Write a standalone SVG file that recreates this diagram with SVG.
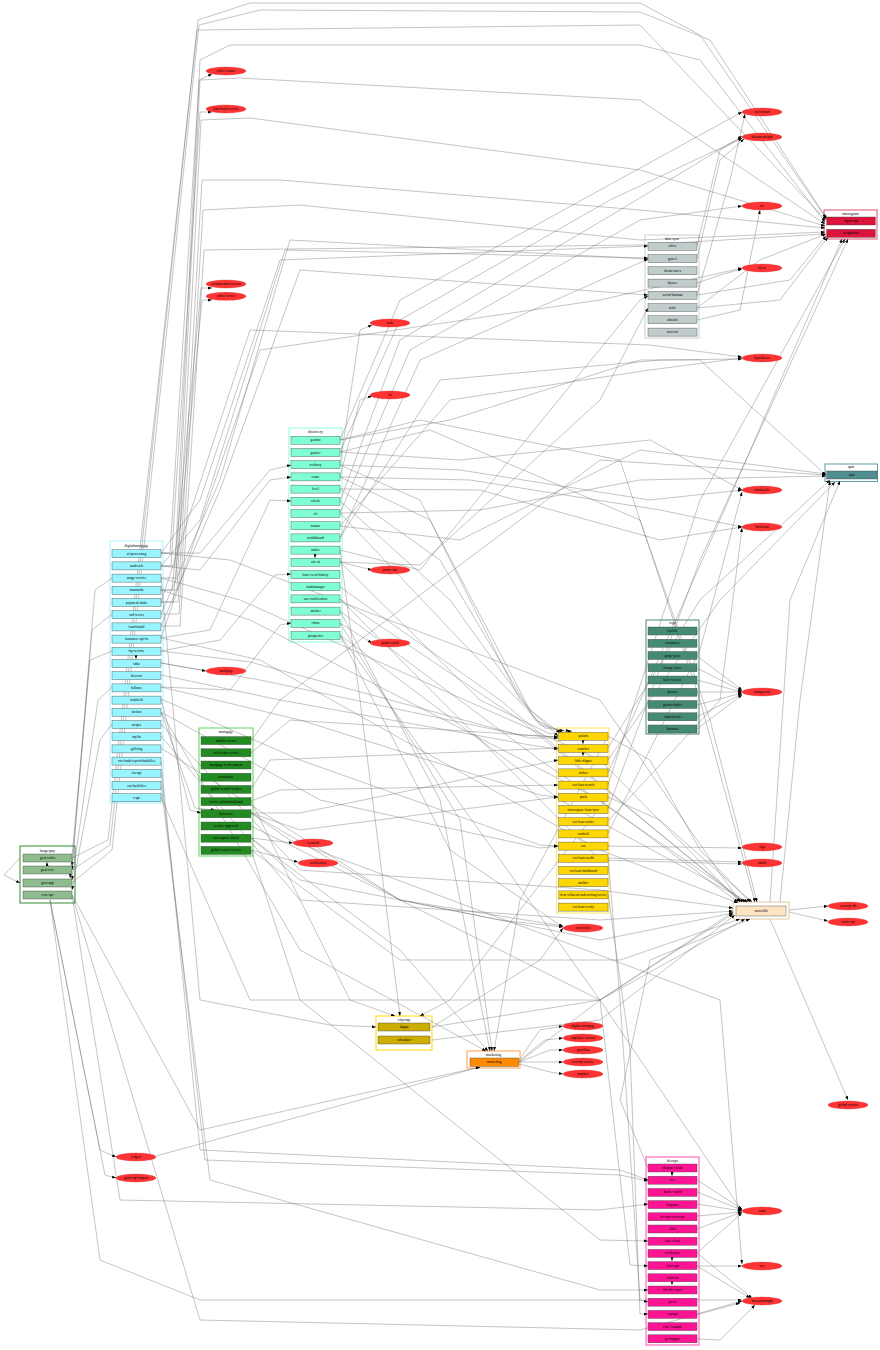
<svg xmlns="http://www.w3.org/2000/svg" width="880" height="1350" viewBox="0 0 880 1350">
<defs>
<marker id="a" markerWidth="4" markerHeight="3" refX="4" refY="1.5" orient="auto" markerUnits="userSpaceOnUse"><path d="M0,0L4,1.5L0,3z" fill="#000"/></marker>
<style>
text{font-family:"Liberation Serif",serif;font-size:3.6px;text-anchor:middle;dominant-baseline:central;fill:#000}
.t{font-size:3.8px}
.n rect{stroke:#444;stroke-width:0.4}
.el ellipse{fill:#f33;stroke:#c22;stroke-width:0.3}
.cl{fill:#fff;stroke-width:1}
.e polyline{fill:none;stroke:#666;stroke-width:0.45;marker-end:url(#a);stroke-opacity:0.85}
.bp rect{fill:#8fbc8f}.dm rect{fill:#98f5ff}.mg rect{fill:#228b22}.dc rect{fill:#7fffd4}
.yl rect{fill:#ffd700}.gr rect{fill:#c1cdcd}.cr rect{fill:#dc143c}.tl rect{fill:#4f8f8f}
.rg rect{fill:#458b74}.pk rect{fill:#ff1493}.or rect{fill:#ff8c00}.sd rect{fill:#cdad00}.mo rect{fill:#ffe4c4}
</style>
</defs>
<rect width="880" height="1350" fill="#fff"/>
<g id="clusters">
<rect class="cl" x="20" y="846" width="55" height="57" stroke="#2e8b2e" stroke-width="0.8"/><text class="t" x="47.5" y="850.5">burgerpay</text>
<rect class="cl" x="110" y="541" width="53" height="262" stroke="#a8f4ff"/><text class="t" x="136.5" y="545.5">digitalmortgage</text>
<rect class="cl" x="199" y="728" width="54" height="128" stroke="#5fd35f" stroke-width="1.3"/><text class="t" x="226" y="732">mortgage</text>
<rect class="cl" x="289" y="428" width="53" height="214" stroke="#8fffda"/><text class="t" x="315.5" y="432.3">discovery</text>
<rect class="cl" x="556.5" y="728" width="52.5" height="185" stroke="#ffe866"/>
<rect class="cl" x="645" y="235" width="54" height="103" stroke="#c8d0d0"/><text class="t" x="672" y="238.5">data-sync</text>
<rect class="cl" x="824" y="210" width="53" height="29" stroke="#e0506e" stroke-width="1.3"/><text class="t" x="850.5" y="213.5">microgrant</text>
<rect class="cl" x="825" y="464" width="52.5" height="17.5" stroke="#5f9ea0" stroke-width="1.3"/><text class="t" x="851" y="466.7">spot</text>
<rect class="cl" x="646" y="620" width="53" height="114" stroke="#4a8a6a" stroke-width="1.2"/><text class="t" x="672.5" y="623.3">rego</text>
<rect class="cl" x="646" y="1157" width="53" height="188" stroke="#ff4fb0" stroke-width="1.2"/><text class="t" x="672.5" y="1160.5">devops</text>
<rect class="cl" x="467" y="1051" width="53" height="17" stroke="#ffa040"/><text class="t" x="493.5" y="1054.5">marketing</text>
<rect class="cl" x="376" y="1016" width="56" height="34" stroke="#ffd700"/><text class="t" x="404" y="1019.5">citycorp</text>
<rect class="cl" x="733" y="902" width="56" height="17" stroke="#e8c9a0" stroke-width="0.6"/>
</g>
<g class="e" id="connectors">
<polyline points="161,566 175,566 200,60 230,45 640,45 700,60 825,222"/>
<polyline points="161,578 176,578 200,80 240,78 640,100 825,224"/>
<polyline points="161,590 177,590 201,120 250,118 640,170 825,226"/>
<polyline points="161,602 178,602 202,180 280,180 640,210 825,228"/>
<polyline points="161,614 179,614 203,210 300,205 640,240 825,232"/>
<polyline points="161,626 180,626 204,250 640,245 825,234"/>
<polyline points="72,870 110,845 198,20 250,3 640,3 700,35 826,218"/>
<polyline points="72,883 112,850 199,25 260,10 640,12 710,40 827,219"/>
<polyline points="72,858 108,840 197,30 640,25 826,220"/>
<polyline points="340,465 420,500 520,700 558,736"/>
<polyline points="340,477 430,520 530,710 560,733"/>
<polyline points="340,489 440,560 535,720 562,732"/>
<polyline points="340,501 450,600 540,725 564,731"/>
<polyline points="340,513 460,640 545,728 570,731"/>
<polyline points="340,562 480,700 550,734 572,731"/>
<polyline points="161,663 260,680 520,735 558,737"/>
<polyline points="161,675 280,700 530,745 558,749"/>
<polyline points="161,687 300,720 540,795 558,797"/>
<polyline points="161,699 300,760 540,845 558,846"/>
<polyline points="161,712 320,800 540,848 558,846"/>
<polyline points="161,651 250,662 530,738 558,738"/>
<polyline points="340,440 420,420 620,460 700,700 755,902"/>
<polyline points="340,452 430,430 640,520 710,720 757,902"/>
<polyline points="608,736 650,760 700,850 750,902"/>
<polyline points="608,797 660,820 752,902"/>
<polyline points="161,724 300,870 600,890 733,908"/>
<polyline points="161,736 300,900 600,920 733,911"/>
<polyline points="251,813 400,900 600,940 733,913"/>
<polyline points="251,850 400,960 620,960 740,919"/>
<polyline points="519,1062 600,1000 745,919"/>
<polyline points="648,1168 620,1100 650,960 750,919"/>
<polyline points="161,553 200,553 270,470 291,465"/>
<polyline points="161,566 200,570 270,480 291,477"/>
<polyline points="161,638 210,630 270,500 291,501"/>
<polyline points="161,651 220,640 275,575 291,574"/>
<polyline points="161,687 230,690 280,625 291,623"/>
<polyline points="340,440 450,420 640,360 700,360 826,475"/>
<polyline points="340,452 460,460 650,440 742,490"/>
<polyline points="340,465 460,470 650,500 742,490"/>
<polyline points="340,477 470,480 660,510 742,527"/>
<polyline points="340,489 480,490 660,540 742,527"/>
<polyline points="340,513 480,510 640,480 826,476"/>
<polyline points="340,526 460,540 640,450 826,474"/>
<polyline points="340,550 420,570 640,300 648,296"/>
<polyline points="340,562 420,565 600,400 648,308"/>
<polyline points="340,526 450,400 650,370 742,358"/>
<polyline points="161,602 250,330 650,345 742,357"/>
<polyline points="340,538 440,380 660,360 742,359"/>
<polyline points="161,638 260,350 600,300 742,268"/>
<polyline points="697,283 720,275 742,269"/>
<polyline points="697,246 720,150 742,138"/>
<polyline points="697,259 720,160 744,139"/>
<polyline points="697,295 730,180 745,114"/>
<polyline points="697,308 760,260 826,234"/>
<polyline points="697,308 780,300 828,237"/>
<polyline points="697,320 740,310 760,210"/>
<polyline points="697,295 790,280 826,236"/>
<polyline points="697,656 742,690"/>
<polyline points="697,668 742,691"/>
<polyline points="697,680 742,692"/>
<polyline points="697,692 742,692"/>
<polyline points="697,705 742,693"/>
<polyline points="697,717 742,694"/>
<polyline points="697,729 742,695"/>
<polyline points="697,1180 742,1209"/>
<polyline points="697,1192 742,1210"/>
<polyline points="697,1204 742,1211"/>
<polyline points="697,1216 742,1212"/>
<polyline points="697,1229 742,1212"/>
<polyline points="697,1253 742,1213"/>
<polyline points="697,1266 742,1266"/>
<polyline points="697,1266 750,1298"/>
<polyline points="697,1253 752,1298"/>
<polyline points="697,1314 742,1301"/>
<polyline points="697,1339 720,1340 755,1305"/>
<polyline points="161,761 200,1150 620,1170 648,1180"/>
<polyline points="161,773 205,1160 620,1175 648,1181"/>
<polyline points="72,895 120,1200 600,1210 648,1204"/>
<polyline points="251,850 300,1000 600,1240 648,1241"/>
<polyline points="340,635 600,1000 630,1265 648,1266"/>
<polyline points="608,858 620,1000 640,1300 648,1302"/>
<polyline points="608,894 630,1050 640,1314 648,1314"/>
<polyline points="161,785 210,1180 600,1290 648,1290"/>
<polyline points="519,1060 540,1030 563,1026"/>
<polyline points="519,1061 545,1040 563,1038"/>
<polyline points="519,1062 550,1050 563,1050"/>
<polyline points="519,1062 563,1062"/>
<polyline points="519,1064 550,1072 563,1074"/>
<polyline points="340,611 440,800 490,1051"/>
<polyline points="340,623 460,820 492,1051"/>
<polyline points="251,838 400,950 488,1051"/>
<polyline points="608,736 520,900 494,1051"/>
<polyline points="161,712 300,950 486,1051"/>
<polyline points="72,895 200,1130 480,1067"/>
<polyline points="161,578 200,1000 330,1025 376,1027"/>
<polyline points="340,550 360,700 400,1016"/>
<polyline points="251,801 350,1000 395,1016"/>
<polyline points="608,797 450,1000 420,1016"/>
<polyline points="432,1027 600,1000 733,912"/>
<polyline points="432,1040 600,1020 735,915"/>
<polyline points="432,1027 540,960 563,928"/>
<polyline points="161,553 170,553 199,80 212,74"/>
<polyline points="161,566 171,566 200,112 212,112"/>
<polyline points="161,590 172,590 201,288 212,288"/>
<polyline points="161,602 173,602 202,300 212,300"/>
<polyline points="340,465 360,330 372,325"/>
<polyline points="340,477 360,400 372,396"/>
<polyline points="340,562 372,570"/>
<polyline points="340,623 372,643"/>
<polyline points="608,846 742,848"/>
<polyline points="608,858 742,862"/>
<polyline points="340,599 600,860 742,864"/>
<polyline points="789,910 828,906"/>
<polyline points="789,912 828,921"/>
<polyline points="770,919 848,1100"/>
<polyline points="780,902 800,700 830,481"/>
<polyline points="770,902 790,600 840,481"/>
<polyline points="608,748 700,600 830,480"/>
<polyline points="608,760 720,600 835,482"/>
<polyline points="608,773 720,520 842,239"/>
<polyline points="608,785 700,500 845,239"/>
<polyline points="608,809 700,560 848,239"/>
<polyline points="608,821 720,700 742,528"/>
<polyline points="608,833 700,650 742,492"/>
<polyline points="340,440 400,300 600,190 742,112"/>
<polyline points="340,452 400,320 610,200 742,138"/>
<polyline points="340,501 400,340 620,210 742,136"/>
<polyline points="340,513 410,350 640,220 742,206"/>
<polyline points="340,538 420,360 648,259"/>
<polyline points="161,553 200,500 280,260 648,246"/>
<polyline points="161,566 200,520 285,250 648,258"/>
<polyline points="161,614 220,480 290,240 648,259"/>
<polyline points="161,626 220,490 300,270 648,295"/>
<polyline points="251,741 280,700 600,460 826,475"/>
<polyline points="251,753 290,720 558,737"/>
<polyline points="251,813 300,813 558,760"/>
<polyline points="251,813 300,830 558,797"/>
<polyline points="251,826 300,850 600,1000 742,1211"/>
<polyline points="251,838 300,880 500,920 563,927"/>
<polyline points="251,789 270,760 558,748"/>
<polyline points="251,801 280,790 558,785"/>
<polyline points="251,813 290,840 720,1000 742,1264"/>
<polyline points="161,699 190,810 201,813"/>
<polyline points="161,712 195,808 215,810"/>
<polyline points="161,663 206,671"/>
<polyline points="50,900 100,1150 116,1157"/>
<polyline points="50,900 105,1175 116,1178"/>
<polyline points="156,1156 480,1067"/>
<polyline points="72,895 200,1320 640,1330 740,1303"/>
<polyline points="50,900 100,1260 200,1300 640,1300 742,1300"/>
<polyline points="251,838 293,843"/>
<polyline points="251,850 298,862"/>
<polyline points="161,748 400,900 563,926"/>
<polyline points="340,635 450,850 563,927"/>
<polyline points="161,553 230,560 600,700 740,902"/>
<polyline points="161,578 240,600 600,760 740,902"/>
<polyline points="161,590 250,620 600,800 738,902"/>
<polyline points="161,638 260,660 600,850 738,903"/>
<polyline points="340,587 500,700 742,902"/>
<polyline points="340,599 520,720 744,902"/>
<polyline points="340,611 540,760 746,902"/>
<polyline points="340,635 560,800 748,902"/>
<polyline points="161,797 250,1000 600,1000 733,914"/>
<polyline points="20,858 4,875 20,883"/>
<polyline points="112,578 95,590 72,866"/>
<polyline points="112,614 92,630 72,870"/>
<polyline points="112,651 90,660 70,878"/>
<polyline points="112,687 98,700 72,880"/>
<polyline points="112,724 100,740 72,890"/>
<polyline points="47,866 47,862"/>
<polyline points="136,655 136,659"/>
<polyline points="315,554 315,558"/>
<polyline points="583,740 583,744"/>
<polyline points="583,753 583,756"/>
<polyline points="672,1172 672,1176"/>
<polyline points="672,1257 672,1261"/>
<polyline points="672,1282 672,1285"/>
</g>
<g id="burgerpay" class="n bp">
<g id="gost-codes"><rect x="23" y="854" width="49" height="8"/><text x="47.5" y="858">gost-codes</text></g>
<g id="gost-core"><rect x="23" y="866" width="49" height="8"/><text x="47.5" y="870">gost-core</text></g>
<g id="gost-app"><rect x="23" y="879" width="49" height="8"/><text x="47.5" y="883">gost-app</text></g>
<g id="core-api"><rect x="23" y="891" width="49" height="8"/><text x="47.5" y="895">core-api</text></g>
</g>
<g id="digitalmortgage" class="n dm">
<g id="ui-processing"><rect x="112" y="549.7" width="49" height="8"/><text x="136.5" y="553.7">ui-processing</text></g>
<g id="uaab-ack"><rect x="112" y="561.9" width="49" height="8"/><text x="136.5" y="565.9">uaab-ack</text></g>
<g id="usage-service"><rect x="112" y="574.1" width="49" height="8"/><text x="136.5" y="578.1">usage-service</text></g>
<g id="mansarda"><rect x="112" y="586.3" width="49" height="8"/><text x="136.5" y="590.3">mansarda</text></g>
<g id="payment-tasks"><rect x="112" y="598.5" width="49" height="8"/><text x="136.5" y="602.5">payment-tasks</text></g>
<g id="xsd-server"><rect x="112" y="610.7" width="49" height="8"/><text x="136.5" y="614.7">xsd-server</text></g>
<g id="loanfinstall"><rect x="112" y="622.9" width="49" height="8"/><text x="136.5" y="626.9">loanfinstall</text></g>
<g id="insurance-api-in"><rect x="112" y="635.1" width="49" height="8"/><text x="136.5" y="639.1">insurance-api-in</text></g>
<g id="fsp-service"><rect x="112" y="647.3" width="49" height="8"/><text x="136.5" y="651.3">fsp-service</text></g>
<g id="tabu"><rect x="112" y="659.5" width="49" height="8"/><text x="136.5" y="663.5">tabu</text></g>
<g id="hireroor"><rect x="112" y="671.7" width="49" height="8"/><text x="136.5" y="675.7">hireroor</text></g>
<g id="fullnote"><rect x="112" y="683.9" width="49" height="8"/><text x="136.5" y="687.9">fullnote</text></g>
<g id="taskfield"><rect x="112" y="696.1" width="49" height="8"/><text x="136.5" y="700.1">taskfield</text></g>
<g id="faction"><rect x="112" y="708.3" width="49" height="8"/><text x="136.5" y="712.3">faction</text></g>
<g id="swiper"><rect x="112" y="720.5" width="49" height="8"/><text x="136.5" y="724.5">swiper</text></g>
<g id="mylin"><rect x="112" y="732.7" width="49" height="8"/><text x="136.5" y="736.7">mylin</text></g>
<g id="gollsing"><rect x="112" y="744.9" width="49" height="8"/><text x="136.5" y="748.9">gollsing</text></g>
<g id="css-frank-report-backfiles"><rect x="112" y="757.1" width="49" height="8"/><text x="136.5" y="761.1">css-frank-report-backfiles</text></g>
<g id="css-api"><rect x="112" y="769.3" width="49" height="8"/><text x="136.5" y="773.3">css-api</text></g>
<g id="css-backfiles"><rect x="112" y="781.5" width="49" height="8"/><text x="136.5" y="785.5">css-backfiles</text></g>
<g id="t-api"><rect x="112" y="793.7" width="49" height="8"/><text x="136.5" y="797.7">t-api</text></g>
</g>
<g id="mortgage" class="n mg">
<g id="mobile-server"><rect x="201" y="736.6" width="50" height="8"/><text x="226" y="740.6">mobile-server</text></g>
<g id="web-form-service"><rect x="201" y="748.8" width="50" height="8"/><text x="226" y="752.8">web-form-service</text></g>
<g id="mortgage-to-document"><rect x="201" y="761" width="50" height="8"/><text x="226" y="765">mortgage-to-document</text></g>
<g id="sensorlane"><rect x="201" y="773.2" width="50" height="8"/><text x="226" y="777.2">sensorlane</text></g>
<g id="global-search-worker"><rect x="201" y="785.4" width="50" height="8"/><text x="226" y="789.4">global-search-worker</text></g>
<g id="service-platformdefault"><rect x="201" y="797.6" width="50" height="8"/><text x="226" y="801.6">service-platformdefault</text></g>
<g id="borrower"><rect x="201" y="809.8" width="50" height="8"/><text x="226" y="813.8">borrower</text></g>
<g id="service-approval"><rect x="201" y="822" width="50" height="8"/><text x="226" y="826">service-approval</text></g>
<g id="microspace-block"><rect x="201" y="834.2" width="50" height="8"/><text x="226" y="838.2">microspace-block</text></g>
<g id="global-search-service"><rect x="201" y="846.4" width="50" height="8"/><text x="226" y="850.4">global-search-service</text></g>
</g>
<g id="discovery" class="n dc">
<g id="gemini"><rect x="291" y="436.3" width="49" height="8"/><text x="315.5" y="440.3">gemini</text></g>
<g id="gsuiter"><rect x="291" y="448.5" width="49" height="8"/><text x="315.5" y="452.5">gsuiter</text></g>
<g id="rocktory"><rect x="291" y="460.7" width="49" height="8"/><text x="315.5" y="464.7">rocktory</text></g>
<g id="crane"><rect x="291" y="472.9" width="49" height="8"/><text x="315.5" y="476.9">crane</text></g>
<g id="level"><rect x="291" y="485.1" width="49" height="8"/><text x="315.5" y="489.1">level</text></g>
<g id="colette"><rect x="291" y="497.3" width="49" height="8"/><text x="315.5" y="501.3">colette</text></g>
<g id="cir"><rect x="291" y="509.5" width="49" height="8"/><text x="315.5" y="513.5">cir</text></g>
<g id="toaster"><rect x="291" y="521.7" width="49" height="8"/><text x="315.5" y="525.7">toaster</text></g>
<g id="nodshboard"><rect x="291" y="533.9" width="49" height="8"/><text x="315.5" y="537.9">nodshboard</text></g>
<g id="tasker"><rect x="291" y="546.1" width="49" height="8"/><text x="315.5" y="550.1">tasker</text></g>
<g id="site-ui"><rect x="291" y="558.3" width="49" height="8"/><text x="315.5" y="562.3">site-ui</text></g>
<g id="loan-event-history"><rect x="291" y="570.5" width="49" height="8"/><text x="315.5" y="574.5">loan-event-history</text></g>
<g id="loadmanager"><rect x="291" y="582.7" width="49" height="8"/><text x="315.5" y="586.7">loadmanager</text></g>
<g id="user-notification"><rect x="291" y="594.9" width="49" height="8"/><text x="315.5" y="598.9">user-notification</text></g>
<g id="stacker"><rect x="291" y="607.1" width="49" height="8"/><text x="315.5" y="611.1">stacker</text></g>
<g id="citrus"><rect x="291" y="619.3" width="49" height="8"/><text x="315.5" y="623.3">citrus</text></g>
<g id="prospector"><rect x="291" y="631.5" width="49" height="8"/><text x="315.5" y="635.5">prospector</text></g>
</g>
<g id="core" class="n yl">
<g id="polaris"><rect x="558.7" y="732.3" width="49.3" height="8"/><text x="583.3" y="736.3">polaris</text></g>
<g id="watcher"><rect x="558.7" y="744.5" width="49.3" height="8"/><text x="583.3" y="748.5">watcher</text></g>
<g id="little-dipper"><rect x="558.7" y="756.7" width="49.3" height="8"/><text x="583.3" y="760.7">little-dipper</text></g>
<g id="trokes"><rect x="558.7" y="768.9" width="49.3" height="8"/><text x="583.3" y="772.9">trokes</text></g>
<g id="css-loan-search"><rect x="558.7" y="781.1" width="49.3" height="8"/><text x="583.3" y="785.1">css-loan-search</text></g>
<g id="pack"><rect x="558.7" y="793.3" width="49.3" height="8"/><text x="583.3" y="797.3">pack</text></g>
<g id="microspace-loan-sync"><rect x="558.7" y="805.5" width="49.3" height="8"/><text x="583.3" y="809.5">microspace-loan-sync</text></g>
<g id="css-loan-writer"><rect x="558.7" y="817.7" width="49.3" height="8"/><text x="583.3" y="821.7">css-loan-writer</text></g>
<g id="cordsell"><rect x="558.7" y="829.9" width="49.3" height="8"/><text x="583.3" y="833.9">cordsell</text></g>
<g id="css"><rect x="558.7" y="842.1" width="49.3" height="8"/><text x="583.3" y="846.1">css</text></g>
<g id="css-loan-credit"><rect x="558.7" y="854.3" width="49.3" height="8"/><text x="583.3" y="858.3">css-loan-credit</text></g>
<g id="css-loan-dashboard"><rect x="558.7" y="866.5" width="49.3" height="8"/><text x="583.3" y="870.5">css-loan-dashboard</text></g>
<g id="molder"><rect x="558.7" y="878.7" width="49.3" height="8"/><text x="583.3" y="882.7">molder</text></g>
<g id="clear-collateral"><rect x="558.7" y="890.9" width="49.3" height="8"/><text x="583.3" y="894.9" style="font-size:3.2px">clear-collateral-underwriting-service</text></g>
<g id="css-loan-verify"><rect x="558.7" y="903.1" width="49.3" height="8"/><text x="583.3" y="907.1">css-loan-verify</text></g>
</g>
<g id="data-sync" class="n gr">
<g id="office"><rect x="648" y="242.3" width="49" height="8"/><text x="672.5" y="246.3">office</text></g>
<g id="gravel"><rect x="648" y="254.6" width="49" height="8"/><text x="672.5" y="258.6">gravel</text></g>
<g id="doom-saves"><rect x="648" y="266.8" width="49" height="8"/><text x="672.5" y="270.8">doom-saves</text></g>
<g id="hyssec"><rect x="648" y="279.1" width="49" height="8"/><text x="672.5" y="283.1">hyssec</text></g>
<g id="social-batman"><rect x="648" y="291.3" width="49" height="8"/><text x="672.5" y="295.3">social-batman</text></g>
<g id="node"><rect x="648" y="303.6" width="49" height="8"/><text x="672.5" y="307.6">node</text></g>
<g id="ahnedo"><rect x="648" y="315.8" width="49" height="8"/><text x="672.5" y="319.8">ahnedo</text></g>
<g id="insector"><rect x="648" y="328.1" width="49" height="8"/><text x="672.5" y="332.1">insector</text></g>
</g>
<g id="microgrant" class="n cr">
<g id="figaro-api"><rect x="826.7" y="217" width="48.6" height="8"/><text x="851" y="221">figaro-api</text></g>
<g id="neighbours"><rect x="826.7" y="229.3" width="48.6" height="8"/><text x="851" y="233.3">neighbours</text></g>
</g>
<g id="spot" class="n tl">
<g id="spot-node"><rect x="826.7" y="471" width="50.3" height="8"/><text x="851.8" y="475">spot</text></g>
</g>
<g id="rego" class="n rg">
<g id="lowlife"><rect x="648" y="627" width="49" height="8"/><text x="672.5" y="631">lowlife</text></g>
<g id="terraraces"><rect x="648" y="639.3" width="49" height="8"/><text x="672.5" y="643.3">terraraces</text></g>
<g id="grape-juice"><rect x="648" y="651.5" width="49" height="8"/><text x="672.5" y="655.5">grape-juice</text></g>
<g id="orange-juice"><rect x="648" y="663.8" width="49" height="8"/><text x="672.5" y="667.8">orange-juice</text></g>
<g id="hello-service"><rect x="648" y="676" width="49" height="8"/><text x="672.5" y="680">hello-service</text></g>
<g id="prinses"><rect x="648" y="688.3" width="49" height="8"/><text x="672.5" y="692.3">prinses</text></g>
<g id="parrot-finder"><rect x="648" y="700.5" width="49" height="8"/><text x="672.5" y="704.5">parrot-finder</text></g>
<g id="underfloors"><rect x="648" y="712.8" width="49" height="8"/><text x="672.5" y="716.8">underfloors</text></g>
<g id="bananas"><rect x="648" y="725" width="49" height="8"/><text x="672.5" y="729">bananas</text></g>
</g>
<g id="devops" class="n pk">
<g id="dispute-cloud"><rect x="648" y="1164" width="49" height="8"/><text x="672.5" y="1168">dispute-cloud</text></g>
<g id="cloe"><rect x="648" y="1176.2" width="49" height="8"/><text x="672.5" y="1180.2">cloe</text></g>
<g id="battle-world"><rect x="648" y="1188.4" width="49" height="8"/><text x="672.5" y="1192.4">battle-world</text></g>
<g id="tlogstore"><rect x="648" y="1200.6" width="49" height="8"/><text x="672.5" y="1204.6">tlogstore</text></g>
<g id="devops-test-repo"><rect x="648" y="1212.8" width="49" height="8"/><text x="672.5" y="1216.8">devops-test-repo</text></g>
<g id="alfin"><rect x="648" y="1225" width="49" height="8"/><text x="672.5" y="1229">alfin</text></g>
<g id="clue-client"><rect x="648" y="1237.2" width="49" height="8"/><text x="672.5" y="1241.2">clue-client</text></g>
<g id="techloader"><rect x="648" y="1249.4" width="49" height="8"/><text x="672.5" y="1253.4">techloader</text></g>
<g id="offer-api"><rect x="648" y="1261.6" width="49" height="8"/><text x="672.5" y="1265.6">offer-api</text></g>
<g id="findcoin"><rect x="648" y="1273.8" width="49" height="8"/><text x="672.5" y="1277.8">findcoin</text></g>
<g id="bfb-dev-sync"><rect x="648" y="1286" width="49" height="8"/><text x="672.5" y="1290">bfb-dev-sync</text></g>
<g id="jarvis"><rect x="648" y="1298.2" width="49" height="8"/><text x="672.5" y="1302.2">jarvis</text></g>
<g id="voyager"><rect x="648" y="1310.4" width="49" height="8"/><text x="672.5" y="1314.4">voyager</text></g>
<g id="clue-example"><rect x="648" y="1322.6" width="49" height="8"/><text x="672.5" y="1326.6">clue-example</text></g>
<g id="go-mapper"><rect x="648" y="1334.8" width="49" height="8"/><text x="672.5" y="1338.8">go-mapper</text></g>
</g>
<g id="marketing" class="n or">
<g id="marketing-node"><rect x="470" y="1058" width="48.7" height="8.3"/><text x="494.3" y="1062.2">marketing</text></g>
</g>
<g id="citycorp" class="n sd">
<g id="kappa"><rect x="378" y="1023" width="52" height="8"/><text x="404" y="1027">kappa</text></g>
<g id="calculator"><rect x="378" y="1036" width="52" height="8"/><text x="404" y="1040">calculator</text></g>
</g>
<g id="monolith" class="n mo">
<g id="monolith-node"><rect x="736" y="906" width="50" height="10"/><text x="761" y="911">monolith</text></g>
</g>
<g class="el">
<g id="e-roller"><ellipse cx="226" cy="71" rx="20" ry="4"/><text x="226" y="71">roller-coaster</text></g>
<g id="e-loanbrain"><ellipse cx="226" cy="109" rx="20" ry="4"/><text x="226" y="109">loan-brain-service</text></g>
<g id="e-accom"><ellipse cx="226" cy="284" rx="20" ry="4"/><text x="226" y="284" style="font-size:3.2px">accommodation-service</text></g>
<g id="e-office"><ellipse cx="226" cy="296.3" rx="20" ry="4"/><text x="226" y="296.3">office-server</text></g>
<g id="e-node"><ellipse cx="390" cy="323" rx="20" ry="4"/><text x="390" y="323">node</text></g>
<g id="e-lfo"><ellipse cx="390" cy="395" rx="20" ry="4"/><text x="390" y="395">lfo</text></g>
<g id="e-prime"><ellipse cx="390" cy="570" rx="20" ry="4"/><text x="390" y="570">prime-site</text></g>
<g id="e-partner"><ellipse cx="390" cy="643" rx="20" ry="4"/><text x="390" y="643">partner-path</text></g>
<g id="e-mortgage"><ellipse cx="226" cy="671" rx="20" ry="4"/><text x="226" y="671">mortgage</text></g>
<g id="e-consulta"><ellipse cx="313" cy="843" rx="20" ry="4"/><text x="313" y="843">consulta</text></g>
<g id="e-notif"><ellipse cx="318" cy="863" rx="20" ry="4"/><text x="318" y="863">notification</text></g>
<g id="e-microsites"><ellipse cx="583" cy="928" rx="20" ry="4"/><text x="583" y="928">microsites</text></g>
<g id="e-digital"><ellipse cx="583" cy="1026" rx="20" ry="4"/><text x="583" y="1026">digital mortgage</text></g>
<g id="e-employee"><ellipse cx="583" cy="1038" rx="20" ry="4"/><text x="583" y="1038">employee service</text></g>
<g id="e-guardian"><ellipse cx="583" cy="1050" rx="20" ry="4"/><text x="583" y="1050">guardian</text></g>
<g id="e-security"><ellipse cx="583" cy="1062" rx="20" ry="4"/><text x="583" y="1062">security service</text></g>
<g id="e-mapbox"><ellipse cx="583" cy="1074" rx="20" ry="4"/><text x="583" y="1074">mapbox</text></g>
<g id="e-ledgers"><ellipse cx="136" cy="1157" rx="20" ry="4"/><text x="136" y="1157">ledgers</text></g>
<g id="e-globe"><ellipse cx="136" cy="1178" rx="20" ry="4"/><text x="136" y="1178">globe-api-import</text></g>
<g id="e-scoreboard"><ellipse cx="762" cy="112" rx="20" ry="4"/><text x="762" y="112">scoreboard</text></g>
<g id="e-docsight"><ellipse cx="762" cy="137" rx="20" ry="4"/><text x="762" y="137">documentsight</text></g>
<g id="e-tsc"><ellipse cx="762" cy="206" rx="20" ry="4"/><text x="762" y="206">tsc</text></g>
<g id="e-fliers"><ellipse cx="762" cy="268" rx="20" ry="4"/><text x="762" y="268">fliers</text></g>
<g id="e-hypo"><ellipse cx="762" cy="358" rx="20" ry="4"/><text x="762" y="358">hypotheses</text></g>
<g id="e-databuckle"><ellipse cx="762" cy="490" rx="20" ry="4"/><text x="762" y="490">databuckle</text></g>
<g id="e-bitstream"><ellipse cx="762" cy="527" rx="20" ry="4"/><text x="762" y="527">bitstream</text></g>
<g id="e-changenow"><ellipse cx="762" cy="692" rx="20" ry="4"/><text x="762" y="692">changenow</text></g>
<g id="e-siga"><ellipse cx="762" cy="847" rx="20" ry="4"/><text x="762" y="847">siga</text></g>
<g id="e-rabbit"><ellipse cx="762" cy="863" rx="20" ry="4"/><text x="762" y="863">rabbit</text></g>
<g id="e-secdb"><ellipse cx="848" cy="906" rx="20" ry="4"/><text x="848" y="906">security-db</text></g>
<g id="e-serfer"><ellipse cx="848" cy="922" rx="20" ry="4"/><text x="848" y="922">serfer-ips</text></g>
<g id="e-gworker"><ellipse cx="848" cy="1105" rx="20" ry="4"/><text x="848" y="1105">global-worker</text></g>
<g id="e-vault"><ellipse cx="762" cy="1211" rx="20" ry="4"/><text x="762" y="1211">vault</text></g>
<g id="e-xxx"><ellipse cx="762" cy="1266" rx="20" ry="4"/><text x="762" y="1266">xxx</text></g>
<g id="e-docsight2"><ellipse cx="762" cy="1301" rx="20" ry="4"/><text x="762" y="1301">documentsight</text></g>
</g>
</svg>
